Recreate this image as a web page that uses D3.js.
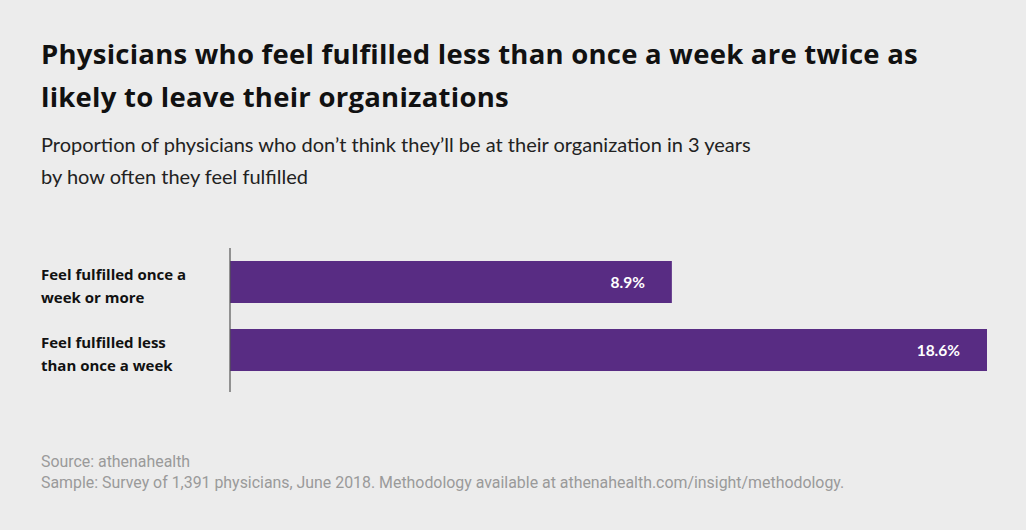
<!DOCTYPE html>
<html>
<head>
<meta charset="utf-8">
<script src="https://cdn.jsdelivr.net/npm/d3@7"></script>
<style>
  html, body { margin: 0; padding: 0; background: #ececec; }
  svg { display: block; }
</style>
</head>
<body>
<svg id="chart" width="1026" height="530"></svg>
<script>
// ---- data ----
const categories = [
  ["Feel fulfilled once a", "week or more"],
  ["Feel fulfilled less", "than once a week"]
];
const values = [8.9, 18.6];
const valueLabels = ["8.9%", "18.6%"];
const titleLines = [
  "Physicians who feel fulfilled less than once a week are twice as",
  "likely to leave their organizations"
];
const subtitleLines = [
  "Proportion of physicians who don\u2019t think they\u2019ll be at their organization in 3 years",
  "by how often they feel fulfilled"
];
const footerLines = [
  "Source: athenahealth",
  "Sample: Survey of 1,391 physicians, June 2018. Methodology available at athenahealth.com/insight/methodology."
];
// the original graphic's bars are not drawn from zero; keep its visual baseline
const axisStart = -4.7;

// ---- layout ----
const svg = d3.select("#chart");
const W = 1026, H = 530;
svg.append("rect").attr("width", W).attr("height", H).attr("fill", "#ececec");

const left = 41;
const plotX0 = 230, plotX1 = 987;

const x = d3.scaleLinear().domain([axisStart, d3.max(values)]).range([plotX0, plotX1]);
const y = d3.scaleBand().domain(d3.range(categories.length))
  .range([248, 384]).paddingInner(0.3824).paddingOuter(0.191);

// title
const title = svg.append("text")
  .attr("font-family", "'Open Sans', Lato, sans-serif")
  .attr("font-weight", 700).attr("font-size", 27.5)
  .attr("letter-spacing", 0.25).attr("fill", "#111");
titleLines.forEach((t, i) => title.append("tspan").attr("x", left).attr("y", 64 + i * 43).text(t));

// subtitle
const sub = svg.append("text")
  .attr("font-family", "Lato, 'Open Sans', sans-serif")
  .attr("font-size", 20).attr("fill", "#222");
subtitleLines.forEach((t, i) => sub.append("tspan").attr("x", left).attr("y", 152 + i * 32).text(t));

// bars
svg.append("g").selectAll("rect").data(values).join("rect")
  .attr("x", x(axisStart))
  .attr("y", (d, i) => y(i))
  .attr("width", d => x(d) - x(axisStart))
  .attr("height", y.bandwidth())
  .attr("fill", "#582c83");

// value labels
svg.append("g").selectAll("text").data(values).join("text")
  .attr("x", d => x(d) - 27)
  .attr("y", (d, i) => y(i) + y.bandwidth() / 2)
  .attr("dy", "0.36em")
  .attr("text-anchor", "end")
  .attr("font-family", "Lato, 'Open Sans', sans-serif")
  .attr("font-weight", 700).attr("font-size", 15.5).attr("fill", "#fff")
  .text((d, i) => valueLabels[i]);

// category labels
const cat = svg.append("g").selectAll("text").data(categories).join("text")
  .attr("font-family", "'Open Sans', Lato, sans-serif")
  .attr("font-weight", 700).attr("font-size", 15).attr("fill", "#111");
cat.each(function(lines, i) {
  const cy = y(i) + y.bandwidth() / 2;
  d3.select(this).selectAll("tspan").data(lines).join("tspan")
    .attr("x", left)
    .attr("y", (l, j) => cy + 4 + (j - 0.5) * 23)
    .attr("dy", "0.36em")
    .text(l => l);
});

// axis line
svg.append("line")
  .attr("x1", x(axisStart)).attr("x2", x(axisStart))
  .attr("y1", y.range()[0]).attr("y2", y.range()[1] + 8)
  .attr("stroke", "#555").attr("stroke-width", 1.2);

// footer
const foot = svg.append("text")
  .attr("font-family", "'Liberation Sans Narrow', 'Roboto', sans-serif")
  .attr("font-size", 15.9).attr("fill", "#9a9a9a");
footerLines.forEach((t, i) => foot.append("tspan").attr("x", left).attr("y", 467 + i * 21).text(t));
</script>
</body>
</html>
